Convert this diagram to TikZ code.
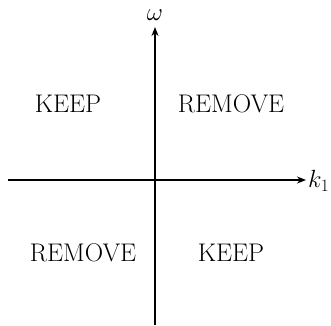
\documentclass[tikz,border=0pt]{standalone}
\usetikzlibrary{arrows.meta}
\begin{document}
\begin{tikzpicture}[x=1pt,y=-1pt,
  axis/.style={line width=2pt,-{Stealth[length=9pt,width=7pt]}},
  lbl/.style={font=\fontsize{25.5}{30}\selectfont,inner sep=0pt},
  axlbl/.style={font=\fontsize{25}{30}\selectfont,inner sep=0pt}]
\useasboundingbox (0,0) rectangle (331,325);
\coordinate (xs) at (8,180);
\coordinate (xe) at (306,180);
\coordinate (ys) at (155,325);
\coordinate (ye) at (155,27);
\draw[axis] (xs) -- (xe);
\draw[axis] (ys) -- (ye);
\node[axlbl,anchor=west] (k) at (308,181) {$k_1$};
\node[axlbl] (w) at (155,15) {$\omega$};
\node[lbl] (a) at (68,104) {KEEP};
\node[lbl] (b) at (231,104) {REMOVE};
\node[lbl] (c) at (83,253) {REMOVE};
\node[lbl] (d) at (231,253) {KEEP};
\end{tikzpicture}
\end{document}
